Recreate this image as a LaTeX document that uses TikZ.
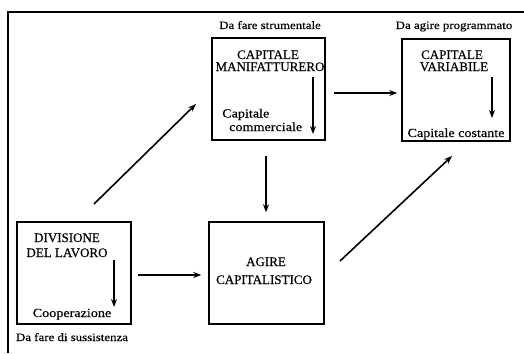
\documentclass[tikz,border=0pt]{standalone}
\usepackage{fontspec}
\setmainfont[FakeBold=0.4]{Liberation Serif}
\newfontfamily\wide[FakeStretch=1.14,FakeBold=0.4]{Liberation Serif}
\usetikzlibrary{arrows.meta}
\begin{document}
\begin{tikzpicture}[x=1pt,y=-1pt,
  box/.style={draw,line width=1.5pt,inner sep=0pt,minimum height=102pt},
  caps/.style={font=\fontsize{13}{15}\selectfont,anchor=base,inner sep=0pt},
  low/.style={font=\wide\fontsize{12.4}{14}\selectfont,anchor=base,inner sep=0pt},
  lab/.style={font=\wide\fontsize{11.3}{13}\selectfont,anchor=base,inner sep=0pt},
  arr/.style={line width=1.6pt,-{Stealth[length=8pt,width=6pt]}},
  frame/.style={line width=1.4pt}]
\useasboundingbox (0,0) rectangle (524,353);
% frame (top and left only)
\coordinate (ftl) at (8,12);
\coordinate (ftr) at (524,12);
\coordinate (fbl) at (8,353);
\draw[frame] (ftr) -- (ftl) -- (fbl);
% boxes
\node[box,minimum width=113pt] (manif) at (268.5,89) {};
\node[box,minimum width=108pt] (var) at (456,90) {};
\node[box,minimum width=114pt] (div) at (74,273) {};
\node[box,minimum width=115pt] (agire) at (266.5,273) {};
% outside labels
\node[lab] (lmanif) at (270,29) {Da fare strumentale};
\node[lab] (lvar) at (454,29) {Da agire programmato};
\node[lab] (ldiv) at (72,341) {Da fare di sussistenza};
% MANIF texts
\node[caps] (m1) at (268,59) {CAPITALE};
\node[caps] (m2) at (270,71) {MANIFATTURERO};
\node[low,anchor=base west] (m3) at (222,117.5) {Capitale};
\node[low,anchor=base west] (m4) at (229,131) {commerciale};
\coordinate (ma) at (313,77);
\coordinate (mb) at (313,134);
\draw[arr] (ma) -- (mb);
% VAR texts
\node[caps] (v1) at (452,59) {CAPITALE};
\node[caps] (v2) at (454,71) {VARIABILE};
\node[low] (v3) at (456,137) {Capitale costante};
\coordinate (va) at (492,77);
\coordinate (vb) at (492,118);
\draw[arr] (va) -- (vb);
% DIV texts
\node[caps] (d1) at (67,242) {DIVISIONE};
\node[caps] (d2) at (67,257) {DEL LAVORO};
\node[low] (d3) at (72,317) {Cooperazione};
\coordinate (da) at (114,260);
\coordinate (db) at (114,307);
\draw[arr] (da) -- (db);
% AGIRE texts
\node[caps] (a1) at (266,266) {AGIRE};
\node[caps] (a2) at (264,284) {CAPITALISTICO};
% connectors
\coordinate (s1) at (94,204);
\coordinate (e1) at (196,104);
\draw[arr] (s1) -- (e1);
\coordinate (s2) at (340,261);
\coordinate (e2) at (452,156);
\draw[arr] (s2) -- (e2);
\draw[arr,shorten <=6pt,shorten >=7pt] (div.east |- 0,275) -- (agire.west |- 0,275);
\draw[arr,shorten <=15pt,shorten >=9pt] (manif.south -| 266,0) -- (agire.north -| 266,0);
\draw[arr,shorten <=8pt,shorten >=4pt] (manif.east |- 0,93) -- (var.west |- 0,93);
\end{tikzpicture}
\end{document}
